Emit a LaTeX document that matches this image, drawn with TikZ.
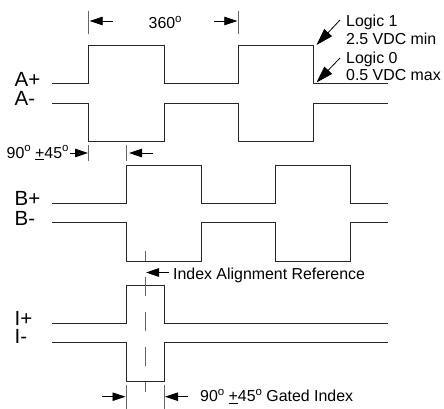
\documentclass[tikz,border=0pt]{standalone}
\usepackage{fontspec}
\setmainfont{Liberation Sans}
\usetikzlibrary{arrows.meta}
\newcommand{\dgr}{\raisebox{0.42em}{\fontsize{11.5}{11.5}\selectfont o}}
\tikzset{
  x=1pt,y=-1pt,
  wave/.style={line width=0.8pt,black!85,line join=miter},
  tick/.style={line width=0.9pt,black!60},
  dimarrow/.style={line width=0.8pt,-{Triangle[length=13pt,width=8.5pt]}},
  callout/.style={line width=0.8pt,-{Triangle[length=17pt,width=10.5pt]}},
  txt/.style={anchor=base west,inner sep=0pt,font=\fontsize{15.9}{15.9}\selectfont},
  sig/.style={anchor=base west,inner sep=0pt,font=\fontsize{20.5}{20.5}\selectfont},
  axisline/.style={line width=0.9pt,black!60,dash pattern=on 19pt off 16pt},
}
\begin{document}
\begin{tikzpicture}
\useasboundingbox (0,0) rectangle (444,409);
% waveforms
\draw[wave] (52,83.7) -| (88.7,45) -| (164,83.7) -| (238.3,45) -| (313,83.7) -- (387.7,83.7);
\draw[wave] (52,103) -| (88.7,141) -| (164,103) -| (238.3,141) -| (313,103) -- (387.7,103);
\draw[wave] (52,203.3) -| (126.3,165) -| (201,203.3) -| (275.7,165) -| (350.3,203.3) -- (387.7,203.3);
\draw[wave] (52,222.3) -| (126.3,261.3) -| (201,222.3) -| (275.7,261.3) -| (350.3,222.3) -- (387.7,222.3);
\draw[wave] (52,323.3) -| (126.3,285.3) -| (164,323.3) -- (387.7,323.3);
\draw[wave] (52,342.7) -| (126.3,381) -| (164,342.7) -- (387.7,342.7);
% signal labels
\node[sig] (ap) at (14.5,86.7) {A+};
\node[sig] (am) at (14.5,105.7) {A-};
\node[sig] (bp) at (14.5,205.7) {B+};
\node[sig] (bm) at (14.5,225) {B-};
\node[sig] (ip) at (14.5,325) {I+};
\node[sig] (im) at (14.5,343.5) {I-};
% 360 dimension
\draw[tick] (88.7,11) -- (88.7,34);
\draw[tick] (238.3,11) -- (238.3,34);
\coordinate (a1) at (113,21); \coordinate (a2) at (89.7,21);
\coordinate (a3) at (214,21); \coordinate (a4) at (237.3,21);
\draw[dimarrow] (a1) -- (a2);
\draw[dimarrow] (a3) -- (a4);
\node[txt] (deg) at (148.5,29) {360\dgr};
% logic levels
\node[txt] (l1) at (346,27) {Logic 1};
\node[txt] (l1v) at (346,45) {2.5 VDC min};
\node[txt] (l0) at (346,64) {Logic 0};
\node[txt] (l0v) at (346,80.5) {0.5 VDC max};
\coordinate (c1) at (340,20); \coordinate (c2) at (316.5,45);
\coordinate (c3) at (340,58); \coordinate (c4) at (316.5,82.5);
\draw[callout] (c1) -- (c2);
\draw[callout] (c3) -- (c4);
% 90 +-45 A-B
\node[txt] (ab) at (6.5,158) {90\dgr\ \underline{+}45\dgr};
\draw[tick] (88.7,145) -- (88.7,161);
\draw[tick] (126.3,145) -- (126.3,161);
\coordinate (d1) at (70,153); \coordinate (d2) at (88,153);
\coordinate (d3) at (153,153); \coordinate (d4) at (129,153);
\draw[dimarrow] (d1) -- (d2);
\draw[dimarrow] (d3) -- (d4);
% index alignment
\draw[axisline,dash phase=9pt] (145,251) -- (145,392);
\coordinate (e1) at (169,272.5); \coordinate (e2) at (146,272.5);
\draw[dimarrow] (e1) -- (e2);
\node[txt] (idx) at (173,279.5) {Index Alignment Reference};
% gated index
\draw[tick] (126.3,385) -- (126.3,409);
\draw[tick] (164,385) -- (164,409);
\coordinate (f1) at (102,396.7); \coordinate (f2) at (125.5,396.7);
\coordinate (f3) at (188,396.7); \coordinate (f4) at (165,396.7);
\draw[dimarrow] (f1) -- (f2);
\draw[dimarrow] (f3) -- (f4);
\node[txt] (gi) at (200,401.7) {90\dgr\ \underline{+}45\dgr\ Gated Index};
\end{tikzpicture}
\end{document}
